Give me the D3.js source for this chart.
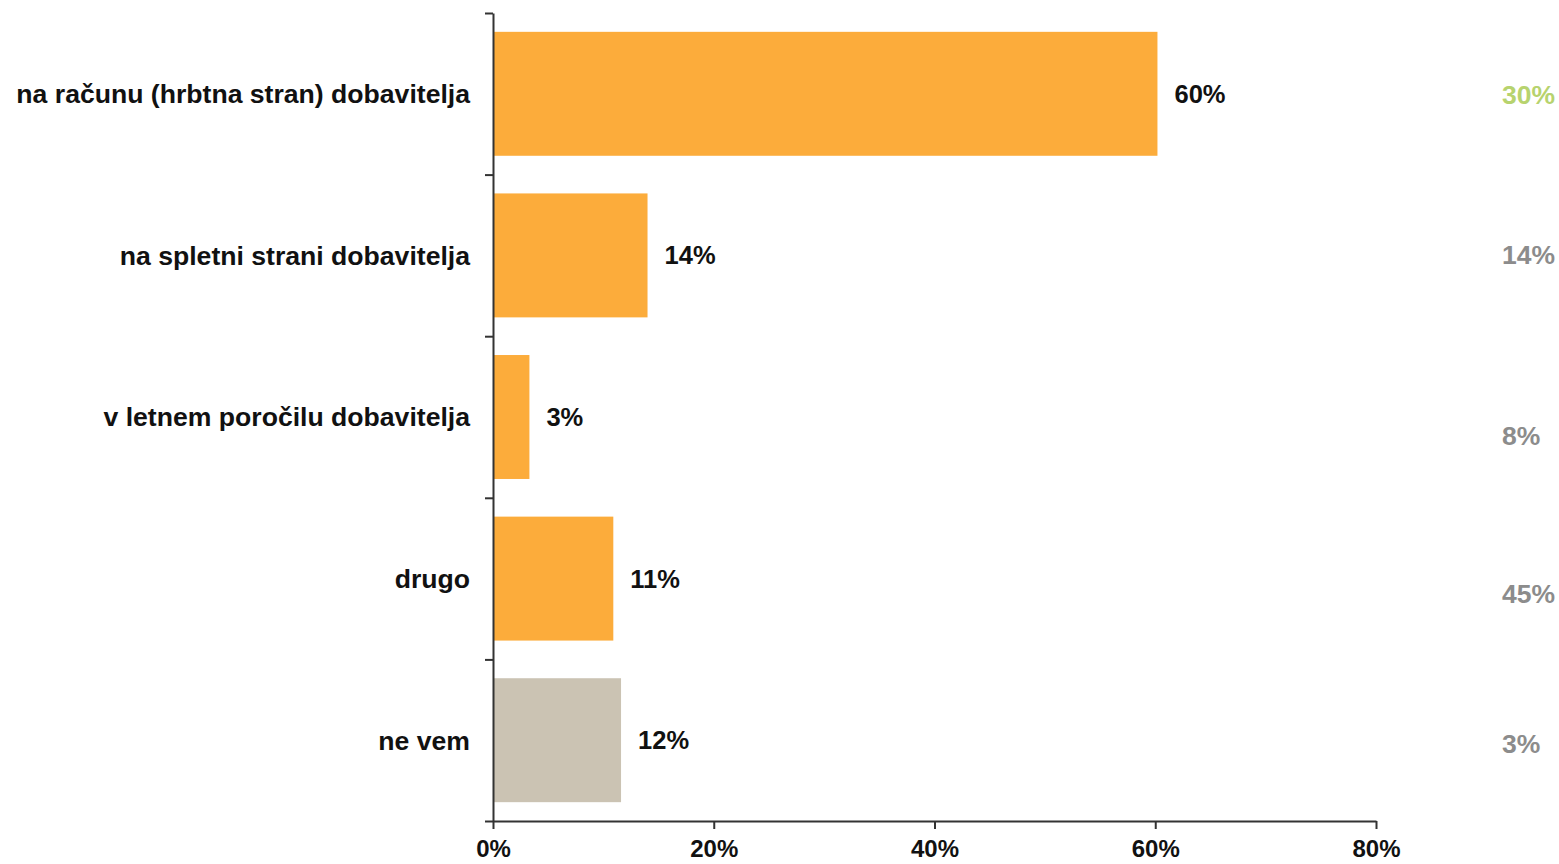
<!DOCTYPE html>
<html>
<head>
<meta charset="utf-8">
<script src="https://cdn.jsdelivr.net/npm/d3@7"></script>
<style>
  html, body { margin: 0; padding: 0; background: #fff; }
  svg { display: block; font-family: "Liberation Sans", Arial, sans-serif; }
</style>
</head>
<body>
<svg id="chart" width="1559" height="864"></svg>
<script>
// ---- data ----
const categories = [
  "na računu (hrbtna stran) dobavitelja",
  "na spletni strani dobavitelja",
  "v letnem poročilu dobavitelja",
  "drugo",
  "ne vem"
];
const values = [0.602, 0.140, 0.033, 0.109, 0.116];
const compareValues = [0.30, 0.14, 0.08, 0.45, 0.03];
const xTicks = [0, 0.2, 0.4, 0.6, 0.8];

// ---- layout / style (not data) ----
const barColors = ["#FCAC3B", "#FCAC3B", "#FCAC3B", "#FCAC3B", "#CBC3B3"];
const compareColors = ["#B7D36E", "#8C8C8C", "#8C8C8C", "#8C8C8C", "#8C8C8C"];
const compareNudge = [1, -1, 19, 15, 4];

const svg = d3.select("#chart");
const x = d3.scaleLinear().domain([0, 0.8]).range([493, 1376]);
const y = d3.scaleBand().domain(categories).range([13, 821])
  .paddingInner(0.233).paddingOuter(0.1165);
const yEdges = d3.scaleLinear().domain([0, categories.length]).range([13, 821]);

// bars
svg.append("g").selectAll("rect")
  .data(categories)
  .join("rect")
  .attr("x", x(0))
  .attr("y", d => y(d))
  .attr("width", (d, i) => x(values[i]) - x(0))
  .attr("height", y.bandwidth())
  .attr("fill", (d, i) => barColors[i]);

// y axis with ticks at category boundaries
const yAxis = svg.append("g")
  .attr("transform", `translate(${x(0)},0)`)
  .call(d3.axisLeft(yEdges).tickValues(d3.range(categories.length + 1)).tickFormat("").tickSize(8).tickSizeOuter(0));
yAxis.selectAll("path, line").attr("stroke", "#333").attr("stroke-width", 2);

// x axis
const xAxis = svg.append("g")
  .attr("transform", `translate(0,821)`)
  .call(d3.axisBottom(x).tickValues(xTicks).tickFormat(d3.format(".0%")).tickSize(8).tickSizeOuter(0).tickPadding(11));
xAxis.selectAll("path, line").attr("stroke", "#333").attr("stroke-width", 2);
xAxis.selectAll("text")
  .attr("font-size", 24).attr("font-weight", "bold").attr("fill", "#111")
  .attr("font-family", "'Liberation Sans', Arial, sans-serif");

// category labels
svg.append("g").selectAll("text")
  .data(categories)
  .join("text")
  .attr("x", 470)
  .attr("y", d => y(d) + y.bandwidth() / 2)
  .attr("dy", "0.35em")
  .attr("text-anchor", "end")
  .attr("font-size", 26.6)
  .attr("font-weight", "bold")
  .attr("fill", "#111")
  .text(d => d);

// value labels
svg.append("g").selectAll("text")
  .data(categories)
  .join("text")
  .attr("x", (d, i) => x(values[i]) + 17)
  .attr("y", d => y(d) + y.bandwidth() / 2)
  .attr("dy", "0.35em")
  .attr("font-size", 25.5)
  .attr("font-weight", "bold")
  .attr("fill", "#111")
  .text((d, i) => d3.format(".0%")(values[i]));

// comparison column
svg.append("g").selectAll("text")
  .data(categories)
  .join("text")
  .attr("x", 1502)
  .attr("y", (d, i) => y(d) + y.bandwidth() / 2 + compareNudge[i])
  .attr("dy", "0.35em")
  .attr("font-size", 26.5)
  .attr("font-weight", "bold")
  .attr("fill", (d, i) => compareColors[i])
  .text((d, i) => d3.format(".0%")(compareValues[i]));
</script>
</body>
</html>
